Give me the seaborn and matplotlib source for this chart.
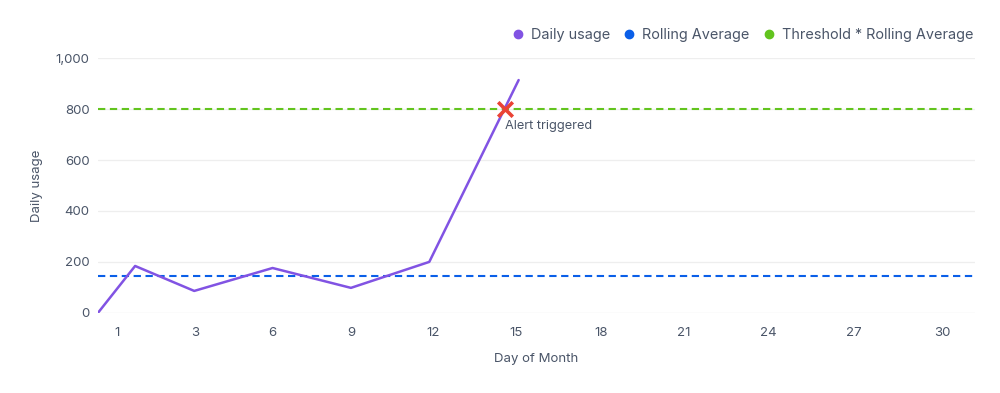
import matplotlib.pyplot as plt
import numpy as np
import pandas as pd
import seaborn as sns
from matplotlib.lines import Line2D

# data (x axis in the reference is not evenly spaced)
tick_pos = [0.1, 2.95, 5.75, 8.6, 11.6, 14.6, 17.7, 20.7, 23.8, 26.9, 30.1]
tick_labels = ["1", "3", "6", "9", "12", "15", "18", "21", "24", "27", "30"]
day_pos = [-0.6, 0.75, 2.9, 5.75, 8.6, 11.45, 14.7]
daily_usage = [0, 184, 86, 176, 98, 200, 914]
rolling_avg = 145
threshold_avg = 800
alert_x, alert_y = 14.2, 800

purple = "#8153e3"
blue = "#0a5fe8"
green = "#62c41e"
red = "#ea4335"
text_c = "#4a5568"

sns.set_theme(style="white")
plt.rcParams["font.family"] = ["Inter", "DejaVu Sans"]

df = pd.DataFrame({"day": day_pos, "usage": daily_usage})

fig = plt.figure(figsize=(10, 3.93), dpi=100)
ax = fig.add_axes([0.098, 0.204, 0.877, 0.648])

for v in [200, 400, 600, 800, 1000]:
    ax.axhline(v, color="#eeeeee", lw=0.9, zorder=0)
ax.axhline(0, color="#e6e6e6", lw=0.9, zorder=0)

ax.axhline(rolling_avg, color=blue, lw=1.5, ls=(0, (3.5, 2.2)), zorder=2)
ax.axhline(threshold_avg, color=green, lw=1.5, ls=(0, (3.5, 2.2)), zorder=2)
sns.lineplot(data=df, x="day", y="usage", ax=ax, color=purple, lw=1.8, zorder=3)

ax.scatter([alert_x], [alert_y], marker="x", s=110, color=red, linewidths=2.6, zorder=4)
ax.annotate("Alert triggered", (alert_x, alert_y), xytext=(0, -8),
            textcoords="offset points", ha="left", va="top",
            fontsize=9.2, color=text_c)

ax.set_xlim(-0.6, 31.3)
ax.set_ylim(0, 1000)
ax.set_xticks(tick_pos)
ax.set_xticklabels(tick_labels)
ax.set_yticks([0, 200, 400, 600, 800, 1000])
ax.set_yticklabels(["0", "200", "400", "600", "800", "1,000"])
ax.tick_params(axis="both", length=0, labelsize=9.5, labelcolor=text_c)
ax.tick_params(axis="x", pad=10)
ax.tick_params(axis="y", pad=6)
for s in ax.spines.values():
    s.set_visible(False)

ax.set_xlabel("Day of Month", fontsize=9.5, color=text_c, labelpad=10)
ax.set_ylabel("Daily usage", fontsize=9.5, color=text_c, labelpad=9)

handles = [
    Line2D([], [], ls="none", marker="o", ms=6, color=purple, label="Daily usage"),
    Line2D([], [], ls="none", marker="o", ms=6, color=blue, label="Rolling Average"),
    Line2D([], [], ls="none", marker="o", ms=6, color=green, label="Threshold * Rolling Average"),
]
leg = fig.legend(handles=handles, loc="upper right", bbox_to_anchor=(0.986, 0.962),
                 ncol=3, frameon=False, fontsize=10.4, handletextpad=0.4,
                 columnspacing=0.8, handlelength=1.0)
for t in leg.get_texts():
    t.set_color(text_c)

fig.savefig("out.png", dpi=100)
